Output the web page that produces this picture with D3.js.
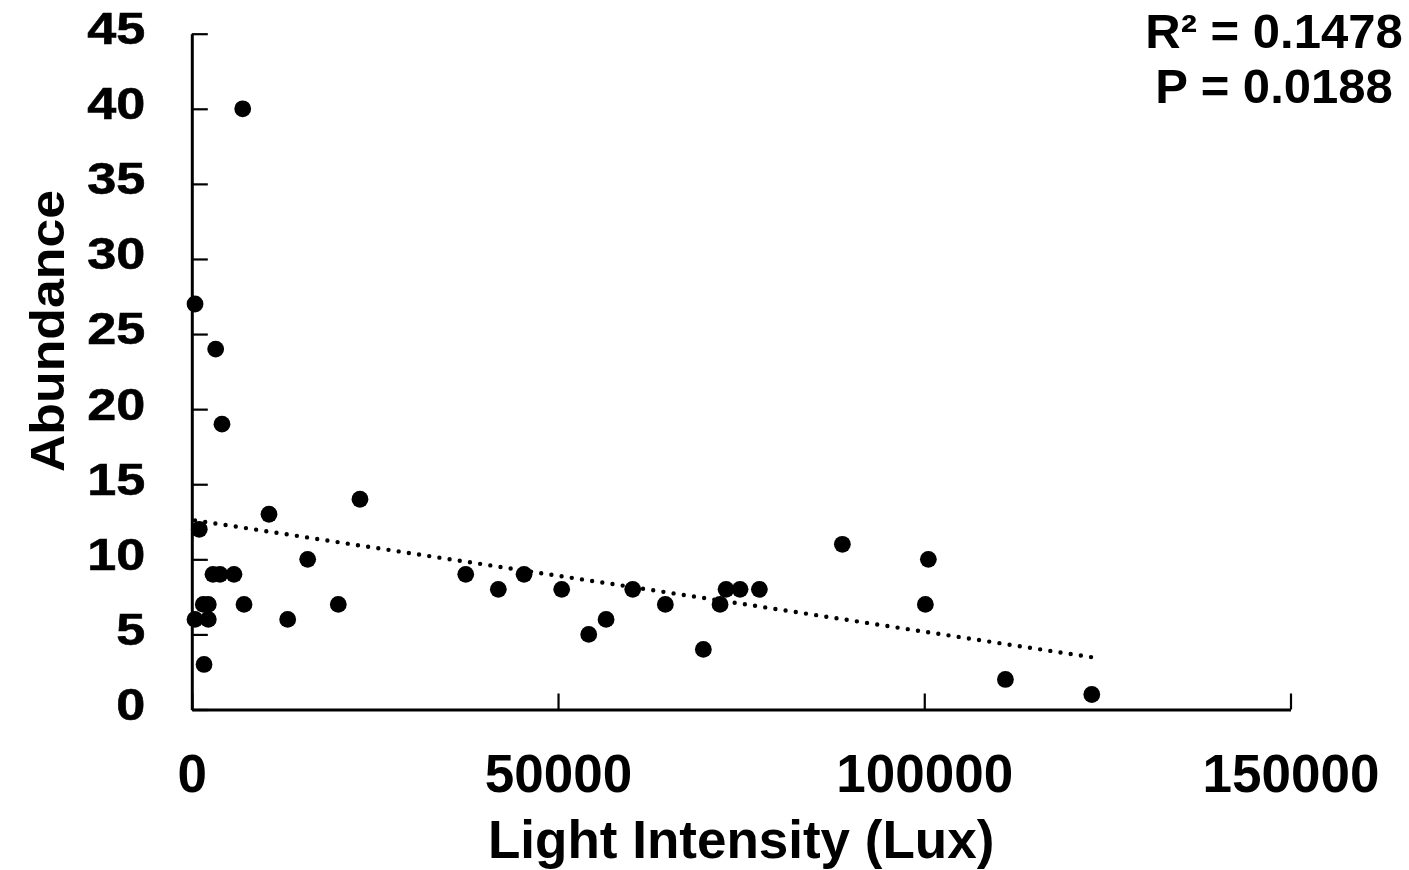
<!DOCTYPE html>
<html>
<head>
<meta charset="utf-8">
<script src="https://cdn.jsdelivr.net/npm/d3@7"></script>
<style>
    body { margin: 0; background: #fff; }
    text { font-family: "Liberation Sans", Arial, sans-serif; font-weight: bold; fill: #000; }
</style>
</head>
<body>
<div id="d3demo">
    <svg id="chart"></svg>
</div>
<script>
//Data
const lux = [
    440, 3260, 4120, 22960, 10540, 1020, 15820, 2890, 3850, 5760,
    1570, 2250, 7130, 440, 2250, 1670, 13090, 20000, 6950,
    37400, 41850, 45360, 50500, 54190, 56560, 60200, 64650, 69840,
    72120, 72940, 74850, 77490, 88820, 100560, 100150, 111080, 122870
];
const abundance = [
    27, 24, 19, 14, 13, 12, 10, 9, 9, 9,
    7, 7, 7, 6, 6, 3, 6, 7, 40,
    9, 8, 9, 8, 5, 6, 8, 7, 4,
    7, 8, 8, 8, 11, 10, 7, 2, 1
];
const xTicks = [0, 50000, 100000, 150000];
const yTicks = [0, 5, 10, 15, 20, 25, 30, 35, 40, 45];
const statLines = ['R\u00b2 = 0.1478', 'P = 0.0188'];

const points = lux.map((d, i) => ({ x: d, y: abundance[i] }));

const width = 1409
const height = 870
const margin = { top: 33.7, right: 118.5, bottom: 160.5, left: 191.8 }

const svg = d3.select('#chart')
    .attr('width', width)
    .attr('height', height)

const x = d3.scaleLinear()
    .domain([0, 150000])
    .range([margin.left, width - margin.right])

const y = d3.scaleLinear()
    .domain([0, 45])
    .range([height - margin.bottom, margin.top])

// X axis (ticks point inward)
const gx = svg.append('g')
    .attr('transform', 'translate(0,' + y(0) + ')')
    .call(d3.axisBottom(x).tickValues(xTicks).tickFormat(d3.format('d')).tickSizeInner(-16).tickSizeOuter(0).tickPadding(0))

gx.select('.domain').attr('stroke-width', 3)
gx.selectAll('.tick line').attr('stroke-width', 2.2)
gx.selectAll('.tick text')
    .attr('y', 82)
    .attr('dy', 0)
    .style('font-size', '53px')

// Y axis
const gy = svg.append('g')
    .attr('transform', 'translate(' + x(0) + ',0)')
    .call(d3.axisLeft(y).tickValues(yTicks).tickSizeInner(-16).tickSizeOuter(0).tickPadding(0))

gy.select('.domain').attr('stroke-width', 3)
gy.selectAll('.tick line').attr('stroke-width', 2.2)
gy.selectAll('.tick text')
    .attr('x', -40)
    .attr('dy', '0.22em')
    .attr('transform', 'scale(1.16,1)')
    .attr('stroke', '#000')
    .attr('stroke-width', 0.6)
    .style('font-size', '45px')

// Trend line from least squares fit
const mx = d3.mean(points, d => d.x)
const my = d3.mean(points, d => d.y)
const slope = d3.sum(points, d => (d.x - mx) * (d.y - my)) / d3.sum(points, d => (d.x - mx) * (d.x - mx))
const intercept = my - slope * mx
const ends = d3.extent(points, d => d.x).map(v => ({ x: v, y: intercept + slope * v }))

svg.append('path')
    .datum(ends)
    .attr('fill', 'none')
    .attr('stroke', '#000')
    .attr('stroke-width', 4.4)
    .attr('stroke-linecap', 'round')
    .attr('stroke-dasharray', '0 10.3')
    .attr('d', d3.line().x(d => x(d.x)).y(d => y(d.y)))

// Draw points
svg.append('g')
    .attr('fill', '#000')
    .selectAll('circle')
    .data(points)
    .join('circle')
    .attr('cx', d => x(d.x))
    .attr('cy', d => y(d.y))
    .attr('r', 8.4)

// Axis titles
svg.append('text')
    .attr('x', (x(0) + x(150000)) / 2)
    .attr('y', 858)
    .attr('text-anchor', 'middle')
    .style('font-size', '53px')
    .text('Light Intensity (Lux)')

svg.append('text')
    .attr('transform', 'translate(64,331) rotate(-90) scale(1.08,1)')
    .attr('text-anchor', 'middle')
    .style('font-size', '48px')
    .text('Abundance')

// Stats
svg.append('g')
    .selectAll('text')
    .data(statLines)
    .join('text')
    .attr('x', 1274)
    .attr('y', (d, i) => 48 + i * 55)
    .attr('text-anchor', 'middle')
    .style('font-size', '49px')
    .text(d => d)
</script>
</body>
</html>
